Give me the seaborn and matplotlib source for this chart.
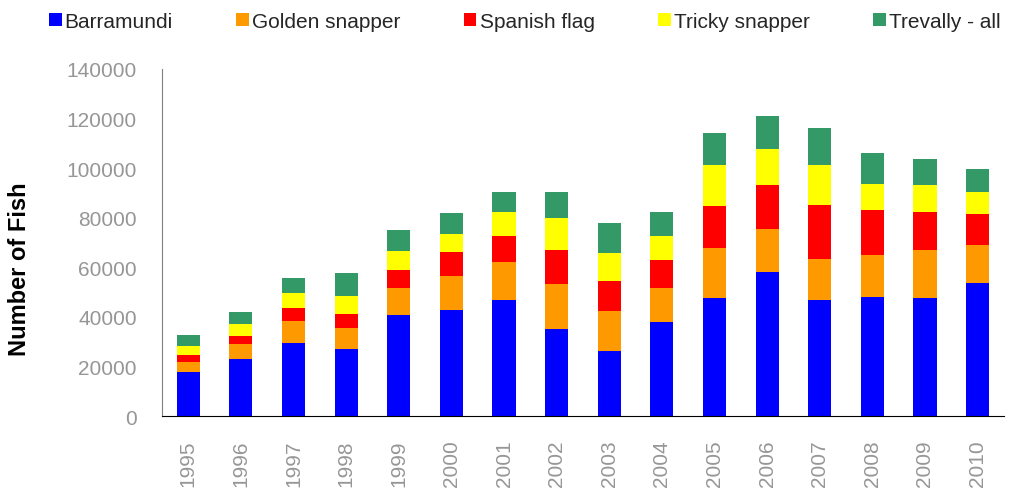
"""
Stacked bar chart of fish numbers per species, 1995-2010.
Output: out.png
"""

import numpy as np
import pandas as pd
import matplotlib
matplotlib.use("Agg")
import matplotlib.pyplot as plt
import seaborn as sns

YEARS = [str(y) for y in range(1995, 2011)]

BARRAMUNDI = [17.6, 23.2, 29.4, 27.2, 40.9, 42.6, 46.7, 35.0,
              26.3, 38.0, 47.5, 58.2, 46.7, 48.1, 47.7, 53.5]
GOLDEN_SNAPPER = [4.1, 5.8, 8.8, 8.2, 10.7, 13.7, 15.5, 18.2,
                  16.1, 13.5, 20.2, 17.4, 16.6, 16.7, 19.1, 15.4]
SPANISH_FLAG = [3.1, 3.2, 5.5, 5.8, 7.4, 9.8, 10.6, 13.7,
                11.9, 11.5, 17.1, 17.7, 21.9, 18.1, 15.5, 12.5]
TRICKY_SNAPPER = [3.5, 4.8, 5.9, 7.3, 7.6, 7.5, 9.3, 13.0,
                  11.5, 9.5, 16.3, 14.5, 16.2, 10.8, 11.0, 9.0]
TREVALLY = [4.4, 4.8, 6.1, 9.3, 8.6, 8.1, 8.2, 10.4,
            12.2, 9.7, 12.9, 13.3, 14.6, 12.2, 10.5, 9.1]

SPECIES = ["Barramundi", "Golden snapper", "Spanish flag",
           "Tricky snapper", "Trevally - all"]
COLORS = ["#0000FF", "#FF9900", "#FF0000", "#FFFF00", "#339966"]

FONT = ["Liberation Sans", "DejaVu Sans"]
GREY = "#969696"


def main() -> None:
    sns.set_style("white")
    plt.rcParams["font.family"] = FONT

    # valeurs en milliers -> nombre de poissons
    series = [BARRAMUNDI, GOLDEN_SNAPPER, SPANISH_FLAG, TRICKY_SNAPPER, TREVALLY]
    df = pd.DataFrame({name: np.array(v) * 1000 for name, v in zip(SPECIES, series)})
    df["year"] = YEARS
    cum = df[SPECIES].cumsum(axis=1)

    fig = plt.figure(figsize=(10.11, 4.89), dpi=100)
    ax = fig.add_axes([0.1602, 0.1472, 0.8328, 0.7098])

    # empilement : on dessine du total vers la base
    for name, color in reversed(list(zip(SPECIES, COLORS))):
        sns.barplot(x=df["year"], y=cum[name], color=color, width=0.44,
                    saturation=1, linewidth=0, ax=ax, label=name)
    h, l = ax.get_legend_handles_labels()
    handles = dict(zip(l, h))
    if ax.get_legend() is not None:
        ax.get_legend().remove()

    ax.set_xlim(-0.5, len(YEARS) - 0.5)
    ax.set_ylim(0, 140000)
    ax.set_yticks(range(0, 140001, 20000))
    ax.set_yticklabels([str(v) for v in range(0, 140001, 20000)],
                       fontsize=15, color=GREY)

    ax.set_xticks(range(len(YEARS)))
    ax.set_xticklabels(YEARS, rotation=90, fontsize=15, color=GREY)
    ax.set_xticks(np.arange(-0.5, len(YEARS)), minor=True)
    ax.tick_params(axis="x", which="major", length=0, pad=17)
    ax.tick_params(axis="x", which="minor", length=6, width=1,
                   color="#555555", direction="out")
    ax.tick_params(axis="y", length=6, width=1, color="#555555",
                   direction="out", pad=12)

    ax.set_xlabel("")
    ax.set_ylabel("Number of Fish", fontsize=17, fontweight="bold", color="black")
    ax.yaxis.set_label_coords(-0.156, 0.425)

    sns.despine(ax=ax)
    ax.spines["left"].set_color("#808080")
    ax.spines["bottom"].set_color("black")

    fig.legend([handles[s] for s in SPECIES], SPECIES, loc="center",
               bbox_to_anchor=(0.519, 0.955), ncol=5, frameon=False,
               fontsize=15, handlelength=0.6, handleheight=0.6,
               handletextpad=0.15, columnspacing=3.05, borderaxespad=0)

    fig.savefig("out.png", dpi=100)
    plt.close(fig)


if __name__ == "__main__":
    main()
